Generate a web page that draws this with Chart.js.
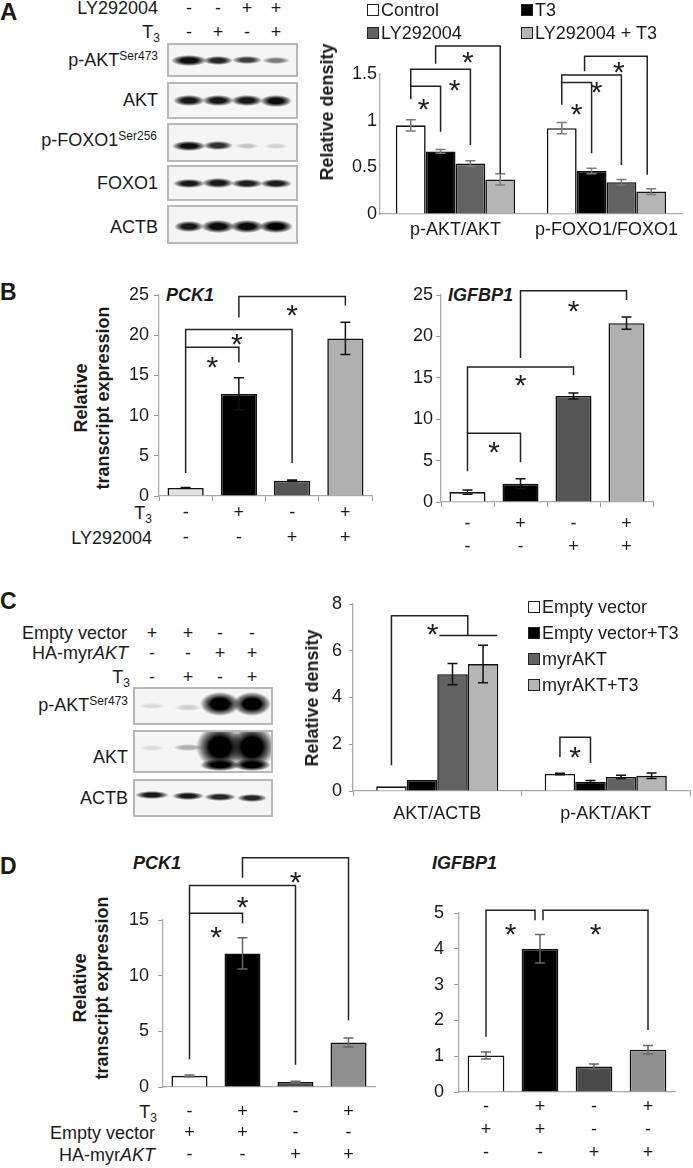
<!DOCTYPE html>
<html>
<head>
<meta charset="utf-8">
<script src="https://cdn.jsdelivr.net/npm/chart.js@4.4.0/dist/chart.umd.min.js"></script>
<style>
  body { margin: 0; width: 693px; height: 1168px; position: relative; overflow: hidden; background: #fff;
         font-family: "Liberation Sans", Arial, sans-serif; color: #1a1a1a; }
  canvas { position: absolute; }
  .t { position: absolute; white-space: nowrap; }
  .t sub { font-size: 12px; vertical-align: -4px; line-height: 0; }
  .t sup { font-size: 12px; vertical-align: 6px; line-height: 0; }
  .sw { position: absolute; width: 12px; height: 12px; box-sizing: border-box; border: 1px solid #222; }
  .blot { position: absolute; box-sizing: border-box; border: 2px solid #b8b8b8; background: #f5f5f5; overflow: hidden; }
  .band { position: absolute; }
</style>
</head>
<body>
<script>
const FONT = '"Liberation Sans", Arial, sans-serif';
Chart.defaults.font.family = FONT;
Chart.defaults.font.size = 18;
Chart.defaults.color = '#1a1a1a';

// ---------- data: panel A ----------
const aCats = ['p-AKT/AKT', 'p-FOXO1/FOXO1'];
const aSeries = ['Control', 'T3', 'LY292004', 'LY292004 + T3'];
const aControl = [0.95, 0.92];
const aT3 = [0.67, 0.46];
const aLY = [0.54, 0.34];
const aLYT3 = [0.37, 0.24];
const aControlErr = [0.06, 0.06];
const aT3Err = [0.02, 0.03];
const aLYErr = [0.03, 0.03];
const aLYT3Err = [0.06, 0.03];
const aBlotLY = ['-', '-', '+', '+'];
const aBlotT3 = ['-', '+', '-', '+'];

// ---------- data: panel B ----------
const bT3 = ['-', '+', '-', '+'];
const bLY = ['-', '-', '+', '+'];
const bPck1 = [1.0, 12.7, 1.9, 19.6];
const bPck1Err = [0.05, 2.0, 0.1, 2.0];
const bIgfbp1 = [1.2, 2.2, 12.8, 21.6];
const bIgfbp1Err = [0.25, 0.6, 0.35, 0.75];

// ---------- data: panel C ----------
const cCats = ['AKT/ACTB', 'p-AKT/AKT'];
const cSeries = ['Empty vector', 'Empty vector+T3', 'myrAKT', 'myrAKT+T3'];
const cEmpty = [0.2, 0.73];
const cEmptyT3 = [0.47, 0.4];
const cMyr = [5.0, 0.6];
const cMyrT3 = [5.43, 0.65];
const cEmptyErr = [0, 0.03];
const cEmptyT3Err = [0, 0.05];
const cMyrErr = [0.45, 0.07];
const cMyrT3Err = [0.8, 0.12];
const cBlotEV = ['+', '+', '-', '-'];
const cBlotMyr = ['-', '-', '+', '+'];
const cBlotT3 = ['-', '+', '-', '+'];

// ---------- data: panel D ----------
const dT3 = ['-', '+', '-', '+'];
const dEV = ['+', '+', '-', '-'];
const dMyr = ['-', '-', '+', '+'];
const dPck1 = [1.0, 12.0, 0.45, 4.0];
const dPck1Err = [0.07, 1.4, 0.07, 0.4];
const dIgfbp1 = [1.02, 4.0, 0.71, 1.18];
const dIgfbp1Err = [0.1, 0.4, 0.07, 0.12];

// significance brackets (levels in data units of each chart)
const aBrackets = [
  {a: [0, 0], b: [1, 0], top: 1.37, ya: 1.23, yb: 0.88, sy: 1.20, sdx: -2},
  {a: [0, 0], b: [2, 0], top: 1.55, ya: 1.37, yb: 0.74, sy: 1.40, sdx: 14},
  {a: [1, 0], b: [3, 0], dxa: -5, top: 1.80, ya: 1.61, yb: 0.43, sy: 1.70},
  {a: [0, 1], b: [1, 1], top: 1.41, ya: 1.17, yb: 0.65, sy: 1.15},
  {a: [0, 1], b: [2, 1], top: 1.49, ya: 1.41, yb: 0.525, sy: 1.38, sdx: 5},
  {a: [1, 1], b: [3, 1], dxa: -7, dxb: -4, top: 1.69, ya: 1.53, yb: 0.42, sy: 1.60, sdx: 3}
];
const bPck1Brackets = [
  {a: [0, 0], b: [0, 1], top: 18.5, ya: 2.85, yb: 16.6, sy: 16.9},
  {a: [0, 0], b: [0, 2], top: 20.7, ya: 18.5, yb: 4.1, sy: 19.8, sdx: -2},
  {a: [0, 1], b: [0, 3], top: 24.8, ya: 22.2, yb: 23.7, sy: 23.4}
];
const bIgfbp1Brackets = [
  {a: [0, 0], b: [0, 1], top: 8.3, ya: 3.7, yb: 4.8, sy: 6.9},
  {a: [0, 0], b: [0, 2], top: 16.3, ya: 8.3, yb: 15.3, sy: 15.0},
  {a: [0, 1], b: [0, 3], top: 25.5, ya: 17.4, yb: 24.4, sy: 23.9}
];
const cBrackets = [
  {a: [0, 0], grp: [[2, 0], [3, 0]], top: 7.5, ya: 1.1, yb: 6.65, sy: 7.02, sdx: 3},
  {a: [0, 1], b: [1, 1], top: 2.3, ya: 1.45, yb: 1.2, sy: 1.75}
];
const dPck1Brackets = [
  {a: [0, 0], b: [0, 1], top: 15.6, ya: 2.5, yb: 14.7, sy: 14.1},
  {a: [0, 0], b: [0, 2], top: 18.1, ya: 15.6, yb: 2.0, sy: 16.8},
  {a: [0, 1], b: [0, 3], top: 20.6, ya: 18.8, yb: 6.0, sy: 19.05}
];
const dIgfbp1Brackets = [
  {a: [0, 0], b: [0, 1], dxb: -5, top: 5.08, ya: 1.54, yb: 4.8, sy: 4.6},
  {a: [0, 1], b: [0, 3], dxa: 3, top: 5.08, ya: 4.8, yb: 1.73, sy: 4.6}
];

// ---------- styles ----------
const fourGrays = ['#ffffff', '#000000', '#626262', '#b5b5b5'];
const pck1BGrays = ['#e2e2e2', '#000000', '#555555', '#b0b0b0'];
const igfbpBGrays = ['#ffffff', '#000000', '#555555', '#b0b0b0'];
const dGrays = ['#ffffff', '#000000', '#4a4a4a', '#8f8f8f'];

// ---------- helpers ----------
function label(html, x, y, o = {}) {
  const d = document.createElement('div');
  d.className = 't';
  d.innerHTML = html;
  const size = o.size || 18, lh = o.lh || 22;
  d.style.fontSize = size + 'px';
  d.style.lineHeight = lh + 'px';
  if (o.bold) d.style.fontWeight = 'bold';
  if (o.italic) d.style.fontStyle = 'italic';
  if (o.rot) {
    d.style.left = x + 'px'; d.style.top = y + 'px';
    d.style.textAlign = 'center';
    d.style.transform = 'translate(-50%,-50%) rotate(-90deg)';
  } else {
    d.style.top = (y - lh / 2) + 'px';
    if (o.align === 'right') d.style.right = (693 - x) + 'px';
    else if (o.align === 'center') { d.style.left = x + 'px'; d.style.transform = 'translateX(-50%)'; }
    else d.style.left = x + 'px';
  }
  document.body.appendChild(d);
}

function signRow(signs, xs, y) {
  signs.forEach((s, i) => label(s, xs[i], y, {align: 'center'}));
}

function blot(x, y, w, h, lanes, bands) {
  const d = document.createElement('div');
  d.className = 'blot';
  d.style.left = x + 'px'; d.style.top = y + 'px';
  d.style.width = w + 'px'; d.style.height = h + 'px';
  bands.forEach(([lane, a, bw, bh, dy]) => {
    const b = document.createElement('div');
    b.className = 'band';
    b.style.left = (lanes[lane] - x - bw / 2 - 2) + 'px';
    b.style.top = (h / 2 + (dy || 0) - bh / 2 - 2) + 'px';
    b.style.width = bw + 'px'; b.style.height = bh + 'px';
    b.style.background = `radial-gradient(ellipse closest-side, rgba(0,0,0,${a}) 0%, rgba(0,0,0,${a}) 45%, rgba(0,0,0,${a * 0.45}) 78%, rgba(0,0,0,0) 100%)`;
    d.appendChild(b);
  });
  document.body.appendChild(d);
}

function marks(cfg) {
  return {
    id: 'marks',
    afterDatasetsDraw(chart) {
      const ctx = chart.ctx, ys = chart.scales.y;
      const Y = v => ys.getPixelForValue(v);
      const el = r => chart.getDatasetMeta(r[0]).data[r[1]];
      ctx.save();
      ctx.lineWidth = 1.5;
      ctx.strokeStyle = cfg.errColor;
      cfg.errors.forEach((errs, d) => {
        const meta = chart.getDatasetMeta(d);
        errs.forEach((e, i) => {
          if (!e) return;
          const v = chart.data.datasets[d].data[i];
          const x = meta.data[i].x, y1 = Y(v - e), y2 = Y(v + e);
          ctx.beginPath();
          ctx.moveTo(x, y1); ctx.lineTo(x, y2);
          ctx.moveTo(x - 5, y1); ctx.lineTo(x + 5, y1);
          ctx.moveTo(x - 5, y2); ctx.lineTo(x + 5, y2);
          ctx.stroke();
        });
      });
      ctx.strokeStyle = '#222';
      ctx.fillStyle = '#222';
      ctx.font = '30px ' + FONT;
      ctx.textAlign = 'center';
      ctx.textBaseline = 'alphabetic';
      cfg.brackets.forEach(b => {
        const xa = el(b.a).x + (b.dxa || 0);
        let xb, g1, g2;
        if (b.grp) {
          g1 = el(b.grp[0]); g2 = el(b.grp[1]);
          xb = (g1.x + g2.x) / 2;
        } else {
          xb = el(b.b).x + (b.dxb || 0);
        }
        const yt = Y(b.top);
        ctx.beginPath();
        ctx.moveTo(xa, Y(b.ya)); ctx.lineTo(xa, yt);
        ctx.lineTo(xb, yt); ctx.lineTo(xb, Y(b.yb));
        if (b.grp) {
          ctx.moveTo(g1.x - g1.width / 2 + 2, Y(b.yb));
          ctx.lineTo(g2.x + g2.width / 2 - 1, Y(b.yb));
        }
        ctx.stroke();
        ctx.fillText('*', (xa + xb) / 2 + (b.sdx || 0), Y(b.sy) + 0.57 * 30);
      });
      ctx.restore();
    }
  };
}

// box / area: [left, top, right, bottom] in page pixels
function barChart(box, area, data, o) {
  const cv = document.createElement('canvas');
  cv.width = box[2] - box[0];
  cv.height = box[3] - box[1];
  cv.style.left = box[0] + 'px';
  cv.style.top = box[1] + 'px';
  document.body.appendChild(cv);
  return new Chart(cv, {
    type: 'bar',
    data: data,
    plugins: [marks(o.marks)],
    options: {
      responsive: false,
      animation: false,
      devicePixelRatio: 1,
      layout: {padding: {left: 0, bottom: 0, top: area[1] - box[1], right: box[2] - area[2]}},
      plugins: {legend: {display: false}, tooltip: {enabled: false}},
      datasets: {bar: {categoryPercentage: o.catPct, barPercentage: o.barPct, borderColor: '#111', borderWidth: 1.6}},
      scales: {
        x: {
          afterFit: s => { s.height = box[3] - area[3]; },
          grid: {drawOnChartArea: false, drawTicks: o.xTicks, tickLength: 5, color: '#999', offset: true},
          border: {color: '#aaa', width: 1.3},
          ticks: {padding: o.xPad, maxRotation: 0, autoSkip: false, font: {size: 18, lineHeight: o.xLine + 'px'}}
        },
        y: {
          min: 0, max: o.max,
          afterFit: s => { s.width = area[0] - box[0]; },
          grid: {drawOnChartArea: false, drawTicks: o.yTicks, tickLength: o.yTickLen || 5, color: '#999'},
          border: {color: '#aaa', width: 1.3},
          ticks: {stepSize: o.step, padding: o.yPad, font: {size: 18}, callback: v => String(+v.toFixed(2))}
        }
      }
    }
  });
}

function htmlLegend(chart, x0, y0, colW, rowH, cols) {
  chart.data.datasets.forEach((ds, i) => {
    const x = x0 + (i % cols) * colW, y = y0 + Math.floor(i / cols) * rowH;
    const sw = document.createElement('div');
    sw.className = 'sw';
    sw.style.left = x + 'px';
    sw.style.top = (y - 6) + 'px';
    sw.style.background = ds.backgroundColor;
    document.body.appendChild(sw);
    label(ds.label, x + 14, y);
  });
}

// ================= Panel A =================
label('A', 0, 12, {size: 24, bold: true, lh: 26});
const aLanes = [189, 218, 247, 276];
label('LY292004', 158, 8, {align: 'right'});
label('T<sub>3</sub>', 160, 32, {align: 'right'});
signRow(aBlotLY, aLanes, 8);
signRow(aBlotT3, aLanes, 32);
blot(167, 43, 131, 34, aLanes, [[0, .95, 36, 11], [1, .85, 30, 9], [2, .75, 30, 8], [3, .5, 28, 7]]);
blot(167, 82, 131, 37, aLanes, [[0, .9, 32, 11], [1, .9, 32, 11], [2, .9, 32, 11], [3, .95, 32, 12]]);
blot(167, 123, 131, 39, aLanes, [[0, .95, 34, 10, 3], [1, .8, 30, 9, 3], [2, .2, 24, 6, 3], [3, .15, 24, 6, 3]]);
blot(167, 165, 131, 36, aLanes, [[0, .9, 32, 9], [1, .9, 32, 10], [2, .88, 32, 9], [3, .88, 32, 9]]);
blot(167, 205, 131, 39, aLanes, [[0, .9, 30, 11, 2], [1, .95, 34, 13, 2], [2, .95, 34, 13, 2], [3, 1, 34, 13, 2]]);
label('p-AKT<sup>Ser473</sup>', 158, 60, {align: 'right'});
label('AKT', 158, 100, {align: 'right'});
label('p-FOXO1<sup>Ser256</sup>', 157, 140, {align: 'right'});
label('FOXO1', 158, 183, {align: 'right'});
label('ACTB', 158, 227, {align: 'right'});

const chartA = barChart([290, 30, 693, 250], [380, 74, 682, 214], {
  labels: aCats,
  datasets: [
    {label: aSeries[0], data: aControl, backgroundColor: fourGrays[0]},
    {label: aSeries[1], data: aT3, backgroundColor: fourGrays[1]},
    {label: aSeries[2], data: aLY, backgroundColor: fourGrays[2]},
    {label: aSeries[3], data: aLYT3, backgroundColor: fourGrays[3]}
  ]
}, {max: 1.5, step: 0.5, catPct: 0.79, barPct: 1, xTicks: false, xPad: 5, xLine: 22, yTicks: false, yPad: 3,
    marks: {errColor: '#7a7a7a', errors: [aControlErr, aT3Err, aLYErr, aLYT3Err], brackets: aBrackets}});
htmlLegend(chartA, 367, 10, 154, 23, 2);
label('Relative density', 327, 112, {rot: true, bold: true});

// ================= Panel B =================
label('B', 0, 292, {size: 23, bold: true, lh: 26});
label('PCK1', 166, 295, {bold: true, italic: true});
label('IGFBP1', 448, 295, {bold: true, italic: true});
label('Relative<br>transcript expression', 92, 398, {rot: true, bold: true});
label('T<sub>3</sub>', 152, 513, {align: 'right'});
label('LY292004', 152, 538, {align: 'right'});
const bLabels = bT3.map((s, i) => [s, bLY[i]]);

barChart([20, 270, 380, 570], [159, 295, 372, 496], {
  labels: bLabels,
  datasets: [{label: 'PCK1', data: bPck1, backgroundColor: pck1BGrays}]
}, {max: 25, step: 5, catPct: 1, barPct: 0.68, xTicks: true, xPad: 0, xLine: 25, yTicks: true, yPad: 5,
    marks: {errColor: '#111', errors: [bPck1Err], brackets: bPck1Brackets}});

barChart([380, 270, 665, 570], [441, 295, 653, 502], {
  labels: bLabels,
  datasets: [{label: 'IGFBP1', data: bIgfbp1, backgroundColor: igfbpBGrays}]
}, {max: 25, step: 5, catPct: 1, barPct: 0.68, xTicks: true, xPad: 5.5, xLine: 23, yTicks: true, yPad: 3,
    marks: {errColor: '#111', errors: [bIgfbp1Err], brackets: bIgfbp1Brackets}});

// ================= Panel C =================
label('C', 0, 601, {size: 23, bold: true, lh: 26});
const cLanes = [152, 188, 220, 252];
label('Empty vector', 127, 633, {align: 'right'});
label('HA-myr<i>AKT</i>', 128, 653, {align: 'right'});
label('T<sub>3</sub>', 130, 677, {align: 'right'});
signRow(cBlotEV, cLanes, 633);
signRow(cBlotMyr, cLanes, 653);
signRow(cBlotT3, cLanes, 677);
blot(133, 687, 140, 38, cLanes, [[0, .1, 28, 6], [1, .15, 28, 7, 1], [2, 1, 40, 24, -2], [3, 1, 38, 24, -2]]);
blot(133, 730, 140, 43, cLanes, [[0, .1, 26, 6, -4], [1, .28, 30, 7, -4], [2, 1, 48, 44, -5], [3, 1, 46, 44, -5],
                                  [2, 1, 40, 12, 13], [3, 1, 38, 12, 13]]);
blot(133, 779, 140, 38, cLanes, [[0, .9, 34, 8, -3], [1, .9, 32, 8, -2], [2, .85, 32, 8, -1], [3, .85, 30, 8, 0]]);
label('p-AKT<sup>Ser473</sup>', 128, 705, {align: 'right'});
label('AKT', 128, 757, {align: 'right'});
label('ACTB', 128, 798, {align: 'right'});

const chartC = barChart([290, 575, 693, 835], [353, 604, 690, 791], {
  labels: cCats,
  datasets: [
    {label: cSeries[0], data: cEmpty, backgroundColor: fourGrays[0]},
    {label: cSeries[1], data: cEmptyT3, backgroundColor: fourGrays[1]},
    {label: cSeries[2], data: cMyr, backgroundColor: fourGrays[2]},
    {label: cSeries[3], data: cMyrT3, backgroundColor: fourGrays[3]}
  ]
}, {max: 8, step: 2, catPct: 0.725, barPct: 1, xTicks: true, xPad: 7, xLine: 22, yTicks: true, yTickLen: 4, yPad: 7,
    marks: {errColor: '#111', errors: [cEmptyErr, cEmptyT3Err, cMyrErr, cMyrT3Err], brackets: cBrackets}});
htmlLegend(chartC, 528, 607, 0, 26, 1);
label('Relative density', 312, 698, {rot: true, bold: true});

// ================= Panel D =================
label('D', 0, 866, {size: 23, bold: true, lh: 26});
label('PCK1', 133, 863, {bold: true, italic: true});
label('IGFBP1', 432, 863, {bold: true, italic: true});
label('Relative<br>transcript expression', 91, 988, {rot: true, bold: true});
label('T<sub>3</sub>', 157, 1112, {align: 'right'});
label('Empty vector', 155, 1133, {align: 'right'});
label('HA-myr<i>AKT</i>', 155, 1155, {align: 'right'});
const dLabels = dT3.map((s, i) => [s, dEV[i], dMyr[i]]);

barChart([20, 840, 385, 1168], [163, 920, 375, 1087], {
  labels: dLabels,
  datasets: [{label: 'PCK1', data: dPck1, backgroundColor: dGrays}]
}, {max: 15, step: 5, catPct: 1, barPct: 0.68, xTicks: false, xPad: 14, xLine: 21.5, yTicks: true, yPad: 9,
    marks: {errColor: '#666', errors: [dPck1Err], brackets: dPck1Brackets}});

barChart([395, 880, 690, 1168], [459, 913, 675, 1092], {
  labels: dLabels,
  datasets: [{label: 'IGFBP1', data: dIgfbp1, backgroundColor: dGrays}]
}, {max: 5, step: 1, catPct: 1, barPct: 0.68, xTicks: false, xPad: 3.5, xLine: 23, yTicks: true, yPad: 10,
    marks: {errColor: '#666', errors: [dIgfbp1Err], brackets: dIgfbp1Brackets}});
</script>
</body>
</html>
